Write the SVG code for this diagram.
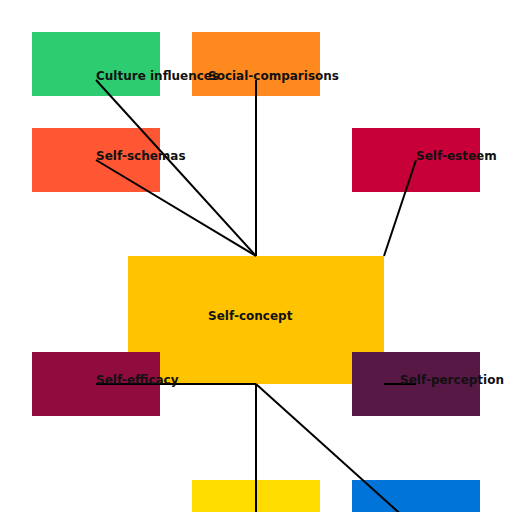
<svg xmlns="http://www.w3.org/2000/svg" width="512" height="512" viewBox="0 0 512 512">
<style>
.lbl{font-family:"DejaVu Sans",sans-serif;font-weight:bold;font-size:12px;fill:#111}
.edge{stroke:#000;stroke-width:2;fill:none}
</style>
<rect width="512" height="512" fill="#fff"/>
<g id="n-culture"><rect x="32" y="32" width="128" height="64" fill="#2ecc71"/></g>
<g id="n-social"><rect x="192" y="32" width="128" height="64" fill="#fe8a1f"/></g>
<g id="n-schemas"><rect x="32" y="128" width="128" height="64" fill="#ff5733"/></g>
<g id="n-esteem"><rect x="352" y="128" width="128" height="64" fill="#c70039"/></g>
<g id="n-concept"><rect x="128" y="256" width="256" height="128" fill="#ffc300"/></g>
<g id="n-efficacy"><rect x="32" y="352" width="128" height="64" fill="#900c3f"/></g>
<g id="n-perception"><rect x="352" y="352" width="128" height="64" fill="#581845"/></g>
<g id="n-yellow"><rect x="192" y="480" width="128" height="64" fill="#ffdd00"/></g>
<g id="n-blue"><rect x="352" y="480" width="128" height="64" fill="#0074d9"/></g>
<g id="edges">
<line class="edge" x1="96" y1="80" x2="256" y2="256"/>
<line class="edge" x1="256" y1="80" x2="256" y2="256"/>
<line class="edge" x1="96" y1="160" x2="256" y2="256"/>
<line class="edge" x1="416" y1="160" x2="384" y2="256"/>
<line class="edge" x1="96" y1="384" x2="256" y2="384"/>
<line class="edge" x1="384" y1="384" x2="416" y2="384"/>
<line class="edge" x1="256" y1="384" x2="256" y2="512"/>
<line class="edge" x1="256" y1="384" x2="416" y2="528"/>
</g>
<g id="labels">
<text class="lbl" x="96" y="80">Culture influences</text>
<text class="lbl" x="208" y="80">Social-comparisons</text>
<text class="lbl" x="96" y="160">Self-schemas</text>
<text class="lbl" x="416" y="160">Self-esteem</text>
<text class="lbl" x="208" y="320">Self-concept</text>
<text class="lbl" x="96" y="384">Self-efficacy</text>
<text class="lbl" x="400" y="384">Self-perception</text>
</g>
</svg>
